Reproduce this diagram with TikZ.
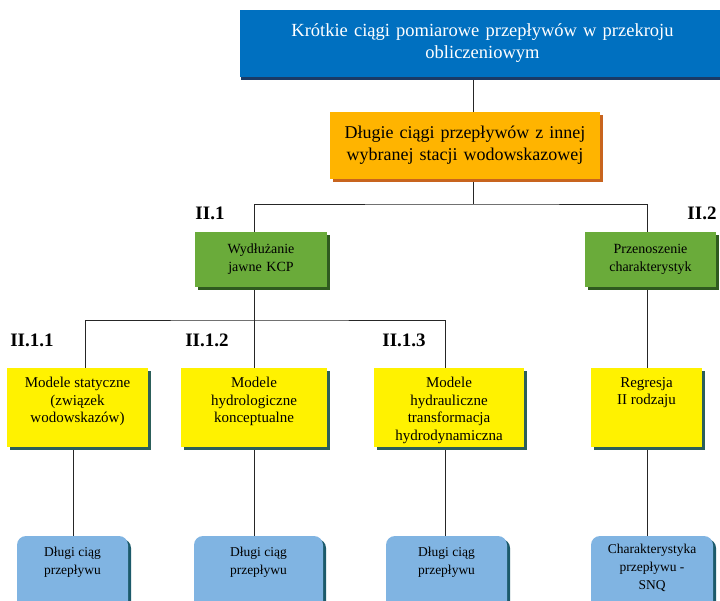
\documentclass[tikz,border=0pt]{standalone}
\usepackage{fontspec}
\setmainfont{Liberation Serif}
\usetikzlibrary{shadows}
\definecolor{topblue}{HTML}{0070C0}
\definecolor{topblueS}{HTML}{1A3A66}
\definecolor{orangeF}{HTML}{FFB400}
\definecolor{orangeS}{HTML}{C8641E}
\definecolor{greenF}{HTML}{6AAB3A}
\definecolor{greenS}{HTML}{2F5A1F}
\definecolor{yellowF}{HTML}{FFF200}
\definecolor{yellowS}{HTML}{2C5F5A}
\definecolor{lblueF}{HTML}{80B4E2}
\definecolor{lblueS}{HTML}{1C5A6A}
\pgfdeclarelayer{bg}
\pgfsetlayers{bg,main}
\tikzset{
  x=1pt, y=-1pt,
  box/.style={rectangle, inner sep=0pt, outer sep=0pt, anchor=north west, align=center},
  topbox/.style={box, fill=topblue, text=white, font=\fontsize{18.5}{22}\selectfont,
    general shadow={fill=topblueS, shadow xshift=1pt, shadow yshift=-3pt}},
  orbox/.style={box, fill=orangeF, font=\fontsize{18}{22}\selectfont,
    general shadow={fill=orangeS, shadow xshift=3pt, shadow yshift=-3pt}},
  grbox/.style={box, fill=greenF, font=\fontsize{14}{18}\selectfont,
    general shadow={fill=greenS, shadow xshift=3pt, shadow yshift=-3pt}},
  ylbox/.style={box, fill=yellowF,
    general shadow={fill=yellowS, shadow xshift=3pt, shadow yshift=-3pt}},
  lbbox/.style={box, fill=lblueF, rounded corners=9pt,
    general shadow={fill=lblueS, shadow xshift=3pt, shadow yshift=-3pt}},
  yltxt/.style={inner sep=0pt, anchor=north, align=center, font=\fontsize{15}{17.5}\selectfont},
  lbtxt/.style={inner sep=0pt, anchor=north, align=center, font=\fontsize{13.5}{18}\selectfont},
  lab/.style={inner sep=0pt, font=\fontsize{19}{20}\selectfont\bfseries},
  conn/.style={draw=black!85, line width=0.9pt}
}
\begin{document}
\begin{tikzpicture}
\useasboundingbox (0,0) rectangle (720,601);
\clip (0,0) rectangle (720,601);

% column / bus coordinates
\coordinate (xt) at (473,0);
\coordinate (xa) at (254,0);
\coordinate (xb) at (647,0);
\coordinate (xc) at (85,0);
\coordinate (xd) at (73,0);
\coordinate (xe) at (445,0);
\coordinate (busA) at (473,204);
\coordinate (busB) at (254,320);

% boxes
\node[topbox, minimum width=485pt, minimum height=67pt, text width=480pt] (top) at (240,10)
  {Krótkie ciągi pomiarowe przepływów w przekroju\\obliczeniowym};
\node[orbox, minimum width=270pt, minimum height=67pt, text width=270pt] (or) at (330,112)
  {Długie ciągi przepływów z innej\\wybranej stacji wodowskazowej};
\node[grbox, minimum width=132pt, minimum height=55pt, text width=132pt] (g1) at (195,232)
  {Wydłużanie\\jawne KCP};
\node[grbox, minimum width=131pt, minimum height=55pt, text width=131pt] (g2) at (585,232)
  {Przenoszenie\\charakterystyk};

\node[ylbox, minimum width=141pt, minimum height=79pt] (y1) at (7,368) {};
\node[ylbox, minimum width=146pt, minimum height=79pt] (y2) at (181,368) {};
\node[ylbox, minimum width=150pt, minimum height=79pt] (y3) at (374,368) {};
\node[ylbox, minimum width=111pt, minimum height=79pt] (y4) at (591,368) {};
\node[yltxt] (t1) at ([yshift=-9pt]y1.north) {Modele statyczne\\(związek\\wodowskazów)};
\node[yltxt] (t2) at ([yshift=-9pt]y2.north) {Modele\\hydrologiczne\\konceptualne};
\node[yltxt] (t3) at ([yshift=-9pt]y3.north) {Modele\\hydrauliczne\\transformacja\\hydrodynamiczna};
\node[yltxt] (t4) at ([yshift=-9pt]y4.north) {Regresja\\II rodzaju};

\node[lbbox, minimum width=111pt, minimum height=85pt] (b1) at (17,536) {};
\node[lbbox, minimum width=129pt, minimum height=85pt] (b2) at (194,536) {};
\node[lbbox, minimum width=121pt, minimum height=85pt] (b3) at (386,536) {};
\node[lbbox, minimum width=122pt, minimum height=85pt] (b4) at (591,536) {};
\node[lbtxt] (u1) at ([yshift=-11pt]b1.north) {Długi ciąg\\przepływu};
\node[lbtxt] (u2) at ([yshift=-11pt]b2.north) {Długi ciąg\\przepływu};
\node[lbtxt] (u3) at ([yshift=-11pt]b3.north) {Długi ciąg\\przepływu};
\node[lbtxt] (u4) at ([yshift=-8pt]b4.north) {Charakterystyka\\przepływu -\\SNQ};

% labels
\node[lab] (l1) at (210,213) {II.1};
\node[lab] (l2) at (702,213) {II.2};
\node[lab] (l11) at (32,340) {II.1.1};
\node[lab] (l12) at (207,340) {II.1.2};
\node[lab] (l13) at (404,340) {II.1.3};

% connectors (behind boxes)
\begin{pgfonlayer}{bg}
\fill[white] (0,0) rectangle (720,601);
\draw[conn] (top.south -| xt) -- (or.north -| xt);
\draw[conn] (or.south -| xt) -- (busA);
\draw[conn] (g1.north -| xa) |- (busA) -| (g2.north -| xb);
\draw[conn] (g1.south -| xa) -- (busB);
\draw[conn] (y1.north -| xc) |- (busB) -| (y3.north -| xe);
\draw[conn] (busB) -- (y2.north -| xa);
\draw[conn] (g2.south -| xb) -- (y4.north -| xb);
\draw[conn] (y1.south -| xd) -- (b1.north -| xd);
\draw[conn] (y2.south -| xa) -- (b2.north -| xa);
\draw[conn] (y3.south -| xe) -- (b3.north -| xe);
\draw[conn] (y4.south -| xb) -- (b4.north -| xb);
\end{pgfonlayer}
\end{tikzpicture}
\end{document}
